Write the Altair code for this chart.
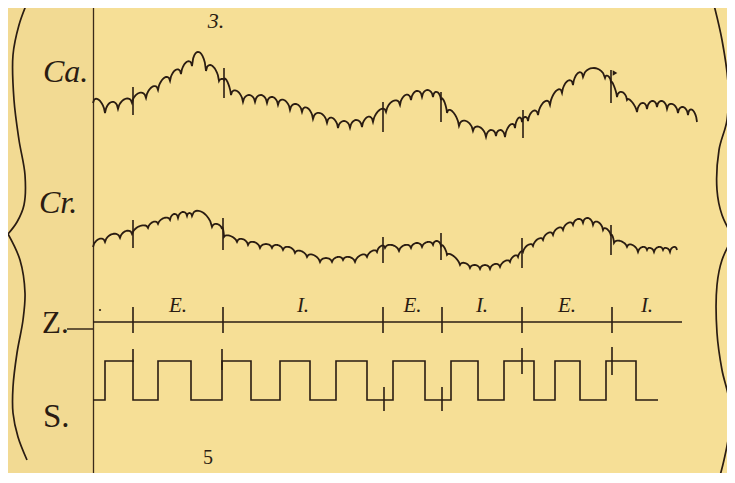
import altair as alt
import pandas as pd

# ---------------- data (image pixel units) ----------------
# Ca. trace: cusps (valleys) of the scallops and the top of each scallop between them
ca_vx = [93, 105, 118, 132, 146, 158, 170, 181, 192, 206, 219, 224, 231, 243, 255,
         267, 278, 290, 302, 313, 327, 338, 350, 362, 373, 386, 400, 411, 422, 433,
         441, 447, 459, 473, 486, 496, 505, 515, 522, 528, 538, 550, 562, 573, 583,
         605, 611, 617, 627, 637, 647, 657, 667, 678, 688, 697]
ca_vy = [103, 113, 109, 103, 98, 90, 81, 74, 66, 71, 81, 80, 95, 102, 102,
         103, 105, 110, 112, 119, 123, 128, 128, 127, 122, 112, 105, 100, 97, 97,
         100, 113, 126, 131, 137, 136, 137, 128, 122, 121, 115, 105, 93, 85, 77,
         78, 82, 97, 100, 112, 109, 107, 109, 113, 115, 122]
ca_apex = [100, 102, 99, 93, 87, 78, 70, 62, 52, 66, 79, 82, 91, 95, 95,
           97, 100, 104, 108, 113, 118, 121, 120, 117, 110, 101, 95, 91, 90, 92,
           101, 112, 121, 127, 130, 130, 125, 118, 117, 111, 102, 91, 81, 73, 68,
           76, 86, 92, 102, 103, 101, 101, 104, 107, 110]

# Cr. trace
cr_vx = [93, 105, 120, 132, 148, 158, 170, 178, 187, 192, 212, 222, 224, 237, 248,
         260, 272, 283, 295, 307, 320, 332, 343, 355, 367, 377, 385, 399, 411, 422,
         433, 441, 447, 460, 470, 480, 490, 500, 510, 518, 523, 533, 543, 553, 563,
         573, 583, 593, 603, 611, 614, 627, 638, 647, 654, 663, 670, 677]
cr_vy = [247, 242, 238, 234, 228, 224, 220, 218, 216, 216, 227, 229, 237, 242, 245,
         248, 248, 250, 253, 257, 262, 262, 260, 262, 257, 252, 248, 251, 248, 247,
         245, 246, 255, 265, 268, 269, 269, 267, 262, 257, 252, 246, 240, 235, 230,
         225, 223, 225, 230, 236, 243, 247, 252, 250, 252, 250, 252, 250]
cr_apex = [239, 234, 231, 226, 222, 218, 214, 212, 213, 212, 224, 229, 236, 239, 242,
           244, 245, 247, 251, 255, 258, 257, 257, 255, 251, 246, 245, 245, 243, 242,
           241, 247, 256, 263, 265, 265, 264, 261, 256, 252, 245, 239, 233, 228, 223,
           219, 218, 222, 229, 236, 241, 245, 247, 248, 247, 248, 247]

# event markers on the Ca. and Cr. traces
ca_tick_x = [133, 224, 383, 441, 523, 611]
ca_tick_top = [87, 68, 102, 92, 110, 70]
ca_tick_bot = [115, 98, 132, 122, 138, 103]
cr_tick_x = [133, 223, 383, 441, 522, 611]
cr_tick_top = [220, 218, 237, 233, 238, 225]
cr_tick_bot = [248, 250, 263, 260, 268, 255]

# Z. time line: phase boundaries and phase names
z_bounds = [133, 223, 383, 442, 522, 612, 682]
z_phase = ["E.", "I.", "E.", "I.", "E.", "I."]
z_start = 93
z_level = 322

# S. signal: edge positions (starts low), levels, end
s_edges = [105, 133, 158, 191, 222, 251, 280, 310, 336, 367,
           393, 425, 451, 478, 504, 534, 555, 580, 606, 636]
s_low, s_high = 400, 361
s_start, s_end = 93, 658
s_tick_x = [133, 222, 384, 442, 522, 612]
s_tick_top = [349, 349, 387, 387, 348, 347]
s_tick_bot = [362, 370, 411, 411, 374, 375]

# braces
lb_up_x = [27, 19, 13, 14, 19, 25, 24, 17, 8]
lb_up_y = [3, 25, 55, 100, 140, 175, 205, 222, 234]
lb_lo_x = [8, 20, 25, 23, 17, 13, 13, 18, 27]
lb_lo_y = [234, 260, 293, 320, 353, 387, 413, 437, 460]
rb_up_x = [714, 722, 728, 727, 719, 717, 722, 733]
rb_up_y = [5, 40, 83, 120, 150, 190, 215, 237]
rb_lo_x = [733, 722, 717, 717, 722, 729, 729, 724, 718]
rb_lo_y = [237, 260, 285, 333, 370, 400, 433, 460, 483]

side_labels = ["Ca.", "Cr.", "Z.", "S."]
page_marks = ["3.", "5"]

# ---------------- build tables ----------------
INK = "#2a1c12"
BG = "#f6df96"


def scallops(name, vx, vy, apex, n=12):
    rows, k = [], 0
    for i in range(len(apex)):
        x0, x1, y0, y1 = vx[i], vx[i + 1], vy[i], vy[i + 1]
        h = (y0 + y1) / 2 - apex[i]
        last = i == len(apex) - 1
        for j in range(n + (1 if last else 0)):
            t = j / n
            bump = (4 * t * (1 - t)) ** 0.6
            rows.append({"series": name, "i": k,
                         "x": x0 + t * (x1 - x0),
                         "y": y0 + t * (y1 - y0) - h * bump})
            k += 1
    return rows


def polyline(name, xs, ys):
    return [{"series": name, "i": k, "x": x, "y": y}
            for k, (x, y) in enumerate(zip(xs, ys))]


trace_df = pd.DataFrame(scallops("Ca", ca_vx, ca_vy, ca_apex)
                        + scallops("Cr", cr_vx, cr_vy, cr_apex))

# square wave
sx, sy = [s_start], [s_low]
level = s_low
for e in s_edges:
    sx.append(e); sy.append(level)
    level = s_high if level == s_low else s_low
    sx.append(e); sy.append(level)
sx.append(s_end); sy.append(level)
square_df = pd.DataFrame(polyline("S", sx, sy))

z_df = pd.DataFrame(polyline("Z", [z_start, z_bounds[-1]], [z_level, z_level])
                    + polyline("Zlead", [67, 93], [329, 329]))
brace_df = pd.DataFrame(polyline("lb1", lb_up_x, lb_up_y) + polyline("lb2", lb_lo_x, lb_lo_y)
                        + polyline("rb1", rb_up_x, rb_up_y) + polyline("rb2", rb_lo_x, rb_lo_y))
vline_df = pd.DataFrame(polyline("v", [93.5, 93.5], [0, 483]))

ticks_df = pd.DataFrame({
    "x": ca_tick_x + cr_tick_x + z_bounds[:-1] + s_tick_x,
    "y": ca_tick_top + cr_tick_top + [z_level - 15] * 6 + s_tick_top,
    "y2": ca_tick_bot + cr_tick_bot + [z_level + 11] * 6 + s_tick_bot,
})
phase_df = pd.DataFrame({
    "label": z_phase,
    "mid": [(a + b) / 2 for a, b in zip(z_bounds[:-1], z_bounds[1:])],
})

W, H = 719, 465
xs = alt.Scale(domain=[8, 8 + W], nice=False, zero=False)
ys = alt.Scale(domain=[8, 8 + H], nice=False, zero=False, reverse=True)
X = alt.X("x:Q", scale=xs, axis=None)
Y = alt.Y("y:Q", scale=ys, axis=None)

one = pd.DataFrame({"a": [0]})

strip = alt.Chart(one).mark_rect(color="#f2da93").encode(
    x=alt.value(0), x2=alt.value(85), y=alt.value(0), y2=alt.value(H))

traces = alt.Chart(trace_df).mark_line(color=INK, strokeWidth=1.8, strokeJoin="miter").encode(
    x=X, y=Y, detail="series:N", order="i:Q")
square = alt.Chart(square_df).mark_line(color=INK, strokeWidth=1.6, strokeJoin="miter").encode(
    x=X, y=Y, detail="series:N", order="i:Q")
zline = alt.Chart(z_df).mark_line(color=INK, strokeWidth=1.4).encode(
    x=X, y=Y, detail="series:N", order="i:Q")
braces = alt.Chart(brace_df).mark_line(color=INK, strokeWidth=1.7, interpolate="catmull-rom").encode(
    x=X, y=Y, detail="series:N", order="i:Q")
vline = alt.Chart(vline_df).mark_line(color="#3a2a1a", strokeWidth=1.3).encode(
    x=X, y=Y, order="i:Q")
ticks = alt.Chart(ticks_df).mark_rule(color=INK, strokeWidth=1.6).encode(
    x=X, y=Y, y2="y2:Q")
flag = alt.Chart(pd.DataFrame({"x": [615], "y": [73]})).mark_point(
    shape="triangle-right", filled=True, color=INK, size=28, opacity=1).encode(x=X, y=Y)
dot = alt.Chart(pd.DataFrame({"x": [100], "y": [310]})).mark_circle(
    color=INK, size=5, opacity=1).encode(x=X, y=Y)

phases = alt.Chart(phase_df).mark_text(
    font="Liberation Serif", fontStyle="italic", fontSize=21, color=INK, baseline="alphabetic"
).encode(x=alt.X("mid:Q", scale=xs, axis=None), y=alt.value(304), text="label:N")


def label(txt, px, py, size, italic, align="left", baseline="alphabetic"):
    kw = dict(font="Liberation Serif", fontSize=size, color=INK, align=align, baseline=baseline)
    if italic:
        kw["fontStyle"] = "italic"
    return alt.Chart(pd.DataFrame({"t": [txt]})).mark_text(**kw).encode(
        text="t:N", x=alt.value(px), y=alt.value(py))


labels = [
    label(side_labels[0], 35, 74, 32, True),
    label(side_labels[1], 31, 205, 32, True),
    label(side_labels[2], 34, 325, 31, False),
    label(side_labels[3], 35, 419, 33, False),
    label(page_marks[0], 208, 3, 22, True, "center", "top"),
    label(page_marks[1], 200, 460, 20, False, "center", "bottom"),
]

chart = alt.layer(
    strip, vline, braces, zline, square, traces, ticks, flag, dot, phases, *labels
).properties(
    width=W, height=H, padding=0, background=BG,
    autosize=alt.AutoSizeParams(type="none"),
).configure_view(strokeWidth=0)

chart.save("out.html", embed_options={"renderer": "svg", "actions": False})
